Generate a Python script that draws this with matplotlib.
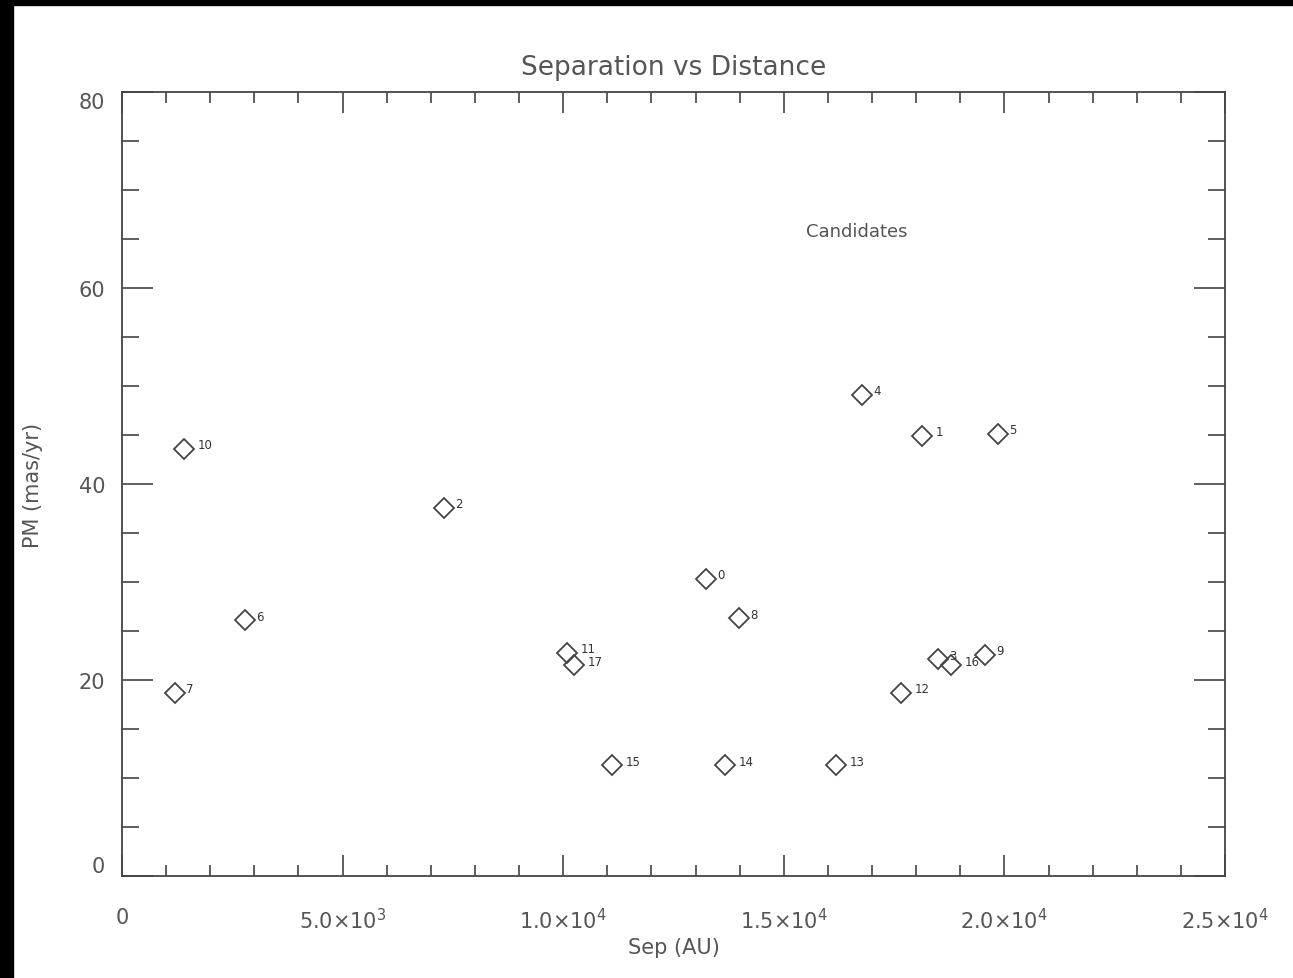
import matplotlib.pyplot as plt
from matplotlib.patches import Rectangle
from matplotlib.ticker import MultipleLocator

# candidate separations (AU) and proper motions (mas/yr)
ids = [0, 1, 2, 3, 4, 5, 6, 7, 8, 9, 10, 11, 12, 13, 14, 15, 16, 17]
sep = [13240, 18130, 7300, 18500, 16770, 19860, 2790, 1200, 13990, 19560,
       1400, 10090, 17660, 16180, 13670, 11110, 18790, 10250]
pm = [30.3, 44.9, 37.6, 22.1, 49.1, 45.1, 26.1, 18.7, 26.3, 22.6,
      43.6, 22.8, 18.7, 11.3, 11.3, 11.3, 21.5, 21.5]

xticks = [0, 5000, 10000, 15000, 20000, 25000]
xticklabels = ['0', r'5.0$\times$10$^{3}$', r'1.0$\times$10$^{4}$',
               r'1.5$\times$10$^{4}$', r'2.0$\times$10$^{4}$', r'2.5$\times$10$^{4}$']
yticks = [0, 20, 40, 60, 80]

LINE = '#444444'
TXT = '#555555'

fig = plt.figure(figsize=(12.93, 9.79), dpi=100, facecolor='white')
W, H = 1293, 979
ax = fig.add_axes([122 / W, 1 - 877 / H, (1225 - 122) / W, (877 - 93) / H])

ax.plot(sep, pm, linestyle='none', marker='D', ms=10, mfc='none',
        mec='#444444', mew=1.3)
for i, x, y in zip(ids, sep, pm):
    dx = 10 if str(i).startswith('1') else 8
    ax.annotate(str(i), (x, y), xytext=(dx, 3), textcoords='offset points',
                fontsize=8.5, color='#333333', ha='left', va='center')

ax.text(16660, 65.8, 'Candidates', fontsize=13, color=TXT, ha='center', va='center')

ax.set_xlim(0, 25000)
ax.set_ylim(0, 80)
ax.set_xticks(xticks)
ax.set_xticklabels(xticklabels)
ax.set_yticks(yticks)
ax.xaxis.set_minor_locator(MultipleLocator(1000))
ax.yaxis.set_minor_locator(MultipleLocator(5))
ax.tick_params(which='both', direction='in', top=True, right=True,
               color=LINE, width=1.2, labelcolor=TXT, labelsize=15)
ax.tick_params(axis='x', which='major', length=15, pad=22)
ax.tick_params(axis='x', which='minor', length=8)
ax.tick_params(axis='y', which='major', length=22, pad=12)
ax.tick_params(axis='y', which='minor', length=12)
# end labels sit inside the axis range
ylabs = ax.get_yticklabels()
ylabs[0].set_va('bottom')
ylabs[-1].set_va('top')
for s in ax.spines.values():
    s.set_color(LINE)
    s.set_linewidth(1.3)

ax.set_xlabel('Sep (AU)', fontsize=15, color=TXT, labelpad=4)
ax.set_ylabel('PM (mas/yr)', fontsize=15, color=TXT, labelpad=26)
ax.set_title('Separation vs Distance', fontsize=19, color=TXT, pad=13)

# black bands at the top and left edge of the screenshot
fig.patches.append(Rectangle((0, 1 - 6 / H), 1, 6 / H, transform=fig.transFigure,
                             color='black', zorder=10))
fig.patches.append(Rectangle((0, 0), 13 / W, 1, transform=fig.transFigure,
                             color='black', zorder=10))

fig.savefig('out.png', dpi=100, facecolor='white')
